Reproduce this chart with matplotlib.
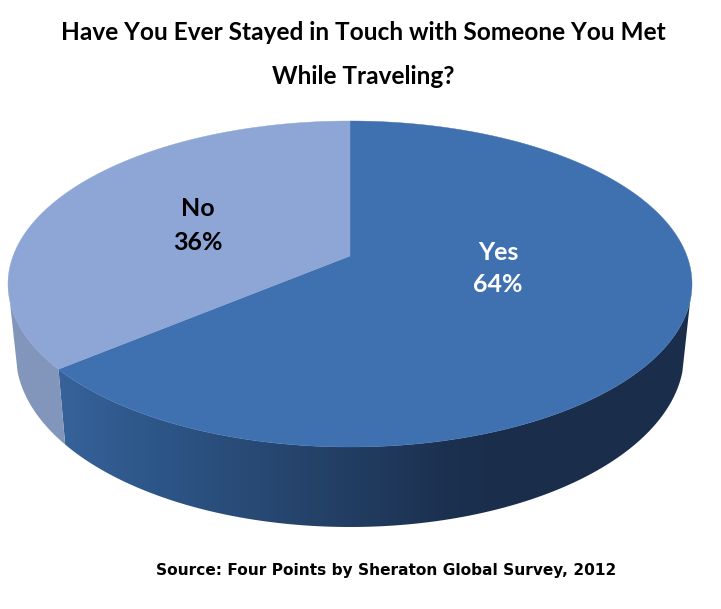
import numpy as np
import matplotlib
matplotlib.use("Agg")
import matplotlib.pyplot as plt
from matplotlib.colors import LinearSegmentedColormap
from matplotlib.patches import Polygon

# ----------------------------------------------------------------------------
#  DATA
# ----------------------------------------------------------------------------
labels = ["Yes", "No"]
shares = [64, 36]
title_lines = ["Have You Ever Stayed in Touch with Someone You Met", "While Traveling?"]
source_text = "Source: Four Points by Sheraton Global Survey, 2012"

# ----------------------------------------------------------------------------
#  STYLE
# ----------------------------------------------------------------------------
top_colors = ["#3F71B1", "#8EA6D6"]
wall_light = "#8296BB"
wall_stops = [(0.0, "#37639C"), (0.20, "#2D5688"), (0.50, "#25436A"), (0.80, "#1B2F4E"), (1.0, "#1A2D4A")]
label_colors = ["white", "black"]

# pie projection, pixels
cx, cy = 350, 256
far_y, near_y = 121, 447
half_width = 342


def project(theta):
    """theta is measured clockwise from the far side of the pie, in degrees"""
    t = np.radians(theta)
    X, Y = np.sin(t), np.cos(t)
    persp = (2*cy - far_y - near_y)/(far_y - near_y)
    b = cy - far_y*(1 + persp)
    a = half_width*np.sqrt(1 - persp**2)
    w = 1 + persp*Y
    return cx + a*X/w, (cy - b*Y)/w


def drop(x, y):
    # lower rim of the pie, matching the top rim
    return cx + 0.977*(x - cx), 527 + 1.06*(y - near_y)


fig = plt.figure(figsize=(7.21, 6.09), dpi=100)
ax = fig.add_axes([0, 0, 1, 1])
ax.axis("off")

# slice limits from the shares
edges = np.concatenate([[0], np.cumsum(shares)])/np.sum(shares)*360

# side walls
cmap = LinearSegmentedColormap.from_list("wall", wall_stops)
for i in range(len(shares)):
    theta = np.linspace(edges[i], edges[i + 1], 400)
    x, y = project(theta)
    keep = y >= 300
    x, y = x[keep], y[keep]
    xb, yb = drop(x, y)
    wall = np.column_stack([np.concatenate([x, xb[::-1]]), np.concatenate([y, yb[::-1]])])
    if i == 0:
        patch = Polygon(wall, closed=True, transform=ax.transData, facecolor="none", edgecolor="none")
        ax.add_patch(patch)
        # gradient stays flat past the last stop, so run it to the right rim
        img = ax.imshow(np.interp(np.arange(52, 721), [52, 560, 721], [0, 1, 1]).reshape(1, -1),
                        cmap=cmap, vmin=0, vmax=1, aspect="auto", extent=[52, 721, 609, 0], zorder=1)
        img.set_clip_path(patch)
    else:
        ax.fill(wall[:, 0], wall[:, 1], color=wall_light, lw=0, zorder=1)
ax.set_xlim(0, 721)
ax.set_ylim(609, 0)

# top faces
for i in range(len(shares)):
    theta = np.linspace(edges[i], edges[i + 1], 400)
    x, y = project(theta)
    ax.fill(np.r_[cx, x], np.r_[cy, y], color=top_colors[i], lw=0.3, zorder=2)

# text
title_font = dict(family="Lato", fontweight="bold", color="black", ha="center", va="center", fontsize=17.6)
ax.text(363, 33, title_lines[0], **title_font)
ax.text(363, 77, title_lines[1], **title_font)

label_pos = [(498, 252, 285), (198, 208, 242)]
for i in range(len(shares)):
    px, y_name, y_val = label_pos[i]
    ax.text(px, y_name, labels[i], family="Lato", fontweight="bold", fontsize=18,
            color=label_colors[i], ha="center", va="center", zorder=3)
    ax.text(px, y_val, str(shares[i]) + "%", family="Lato", fontweight="bold", fontsize=18,
            color=label_colors[i], ha="center", va="center", zorder=3)

ax.text(386, 571, source_text, family="DejaVu Sans", fontweight="bold", fontsize=11.05,
        color="black", ha="center", va="center")

fig.savefig("out.png", dpi=100)
